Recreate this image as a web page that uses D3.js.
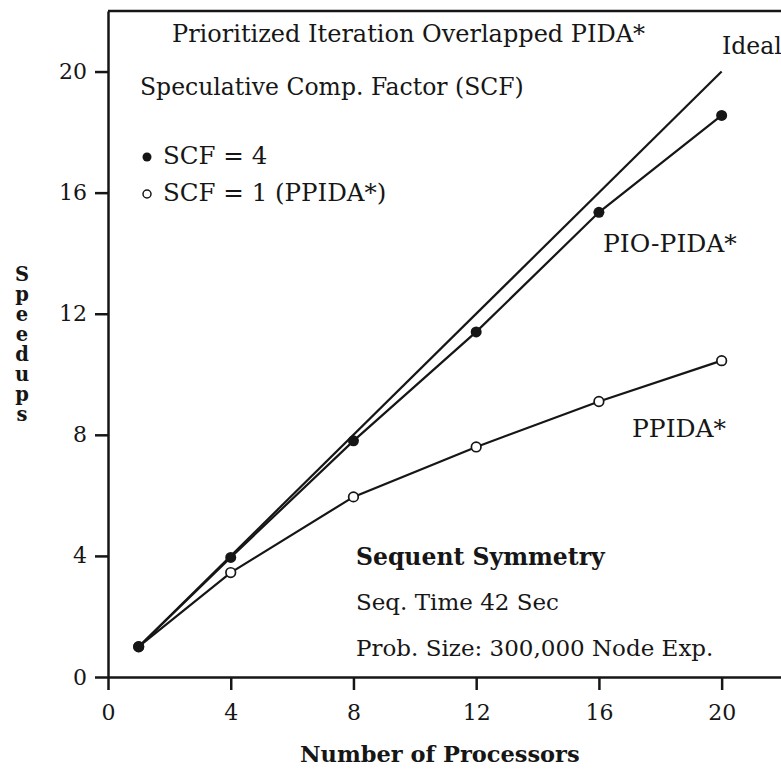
<!DOCTYPE html>
<html>
<head>
<meta charset="utf-8">
<title>PIO-PIDA* speedups</title>
<script src="https://cdn.jsdelivr.net/npm/d3@7"></script>
<style>
  body { margin: 0; background: #fff; }
  svg text { font-family: "DejaVu Serif", serif; fill: #161616; }
</style>
</head>
<body>
<svg id="chart" width="781" height="769"></svg>
<script>
// data
var procs = [1, 4, 8, 12, 16, 20]
var scf4 = [1, 3.95, 7.8, 11.4, 15.35, 18.55]    // PIO-PIDA*, SCF = 4
var scf1 = [1, 3.45, 5.95, 7.6, 9.1, 10.45]      // PPIDA*, SCF = 1
var idealX = [1, 20]
var idealY = [1, 20]
var xTicks = [0, 4, 8, 12, 16, 20]
var yTicks = [0, 4, 8, 12, 16, 20]
var yLabel = "Speedups"

var svg = d3.select('#chart')
var ink = '#161616'

var x = d3.scaleLinear().domain([0, 22]).range([108, 783])
var y = d3.scaleLinear().domain([0, 22]).range([677, 11])

// frame top + right
svg.append('path')
  .attr('d', 'M' + x(0) + ',' + y(22) + 'H' + x(22) + 'V' + y(0))
  .attr('fill', 'none').attr('stroke', ink).attr('stroke-width', 2.5)

// axes
var xAxis = svg.append('g')
  .attr('transform', 'translate(0,' + y(0) + ')')
  .call(d3.axisBottom(x).tickValues(xTicks).tickSize(13).tickSizeOuter(0).tickPadding(10))
var yAxis = svg.append('g')
  .attr('transform', 'translate(' + x(0) + ',0)')
  .call(d3.axisLeft(y).tickValues(yTicks).tickSize(13).tickSizeOuter(0).tickPadding(8))

svg.selectAll('.domain, .tick line')
  .attr('stroke', ink).attr('stroke-width', 2.5)
svg.selectAll('.tick text')
  .attr('font-family', '"DejaVu Serif", serif').attr('font-size', 22).attr('fill', ink)
xAxis.selectAll('.tick text').attr('dy', '0.9em')

// lines
var line = d3.line().x(function(d){ return x(d[0]) }).y(function(d){ return y(d[1]) })
var idealPts = idealX.map(function(v, i){ return [v, idealY[i]] })
var pts4 = procs.map(function(v, i){ return [v, scf4[i]] })
var pts1 = procs.map(function(v, i){ return [v, scf1[i]] })

;[idealPts, pts4, pts1].forEach(function(p){
  svg.append('path').datum(p).attr('d', line)
    .attr('fill', 'none').attr('stroke', ink).attr('stroke-width', 2.2)
})

// markers
svg.selectAll('circle.open').data(pts1).enter().append('circle')
  .attr('class', 'open')
  .attr('cx', function(d){ return x(d[0]) }).attr('cy', function(d){ return y(d[1]) })
  .attr('r', 4.8).attr('fill', '#fff').attr('stroke', ink).attr('stroke-width', 1.7)
svg.selectAll('circle.filled').data(pts4).enter().append('circle')
  .attr('class', 'filled')
  .attr('cx', function(d){ return x(d[0]) }).attr('cy', function(d){ return y(d[1]) })
  .attr('r', 5.5).attr('fill', ink)

// texts
function label(txt, tx, ty, size, weight) {
  return svg.append('text').attr('x', tx).attr('y', ty)
    .attr('font-size', size).attr('font-weight', weight || 'normal').text(txt)
}
label('Prioritized Iteration Overlapped PIDA*', 172, 42, 24)
label('Ideal', 722, 54, 23.5)
label('Speculative Comp. Factor (SCF)', 140, 95, 23.5)
svg.append('circle').attr('cx', 147).attr('cy', 157).attr('r', 4.5).attr('fill', ink)
label('SCF = 4', 163, 164, 24.5)
svg.append('circle').attr('cx', 147).attr('cy', 194).attr('r', 4)
  .attr('fill', '#fff').attr('stroke', ink).attr('stroke-width', 1.5)
label('SCF = 1 (PPIDA*)', 163, 201, 24.5)
label('PIO-PIDA*', 603, 252, 25)
label('PPIDA*', 632, 437, 25)
label('Sequent Symmetry', 356, 565, 23.5, 'bold')
label('Seq. Time 42 Sec', 356, 610, 23)
label('Prob. Size: 300,000 Node Exp.', 356, 656, 23)
label('Number of Processors', 300, 762, 22.5, 'bold')

// stacked y axis title, one upright vertical text
svg.append('text')
  .attr('x', 22).attr('y', 263)
  .attr('font-size', 19.5).attr('font-weight', 'bold')
  .style('writing-mode', 'vertical-lr').style('text-orientation', 'upright')
  .style('letter-spacing', '-3px')
  .text(yLabel)
</script>
</body>
</html>
